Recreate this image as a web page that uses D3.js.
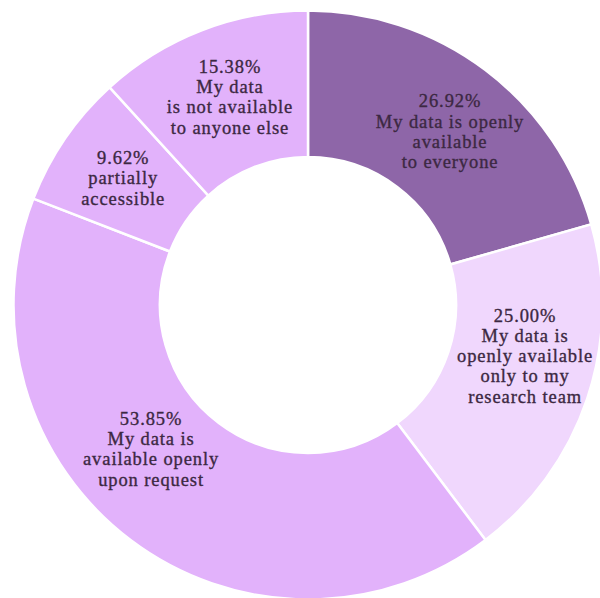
<!DOCTYPE html>
<html>
<head>
<meta charset="utf-8">
<script src="https://cdn.jsdelivr.net/npm/d3@7"></script>
<style>
	html, body { margin: 0; padding: 0; background: #ffffff; }
	svg { display: block; }
</style>
</head>
<body>
<div id="chart"></div>
<script>
'use strict';

// shares as printed on the chart (they do not add up to 100)
const values = [26.92, 25.00, 53.85, 9.62, 15.38];

const categories = [
	["My data is openly", "available", "to everyone"],
	["My data is", "openly available", "only to my", "research team"],
	["My data is", "available openly", "upon request"],
	["partially", "accessible"],
	["My data", "is not available", "to anyone else"]
];

const colors = ["#8e66a8", "#f0d7fd", "#e2b2fb", "#e2b2fb", "#e2b2fb"];

// small hand nudges for the labels: [angle in degrees, radius in px]
const label_nudge = [[2.3, 1], [-5.3, 0], [10.4, -10], [0, 1], [0.6, -1]];

window.onload = function()
{
	const width = 600;
	const height = 598;
	const cx = 308;
	const cy = 305;
	const outer = 294.5;
	const inner = 148;
	const label_r = 223;
	const line_h = 20.3;

	const svg = d3.select("#chart")
		.append("svg")
			.attr("width", width)
			.attr("height", height);

	const g = svg.append("g")
		.attr("transform", `translate(${cx},${cy})`);

	const pie = d3.pie()
		.sort(null)
		.value(d => d);

	const arcs = pie(values);

	const arc = d3.arc()
		.innerRadius(inner)
		.outerRadius(outer);

	g.append("g")
		.attr("class", "slices")
		.selectAll("path")
		.data(arcs)
		.join("path")
			.attr("d", arc)
			.attr("fill", (d, i) => colors[i])
			.attr("stroke", "#ffffff")
			.attr("stroke-width", 2.5);

	const labels = g.append("g")
		.attr("class", "labels")
		.attr("font-family", "'Liberation Serif', 'Times New Roman', serif")
		.attr("font-size", 18.5)
		.attr("letter-spacing", 0.9)
		.attr("fill", "#3c2842")
		.attr("stroke", "#3c2842")
		.attr("stroke-width", 0.35)
		.attr("text-anchor", "middle")
		.selectAll("text")
		.data(arcs)
		.join("text")
			.attr("transform", function(d, i) {
				const a = (d.startAngle + d.endAngle) / 2 + label_nudge[i][0] * Math.PI / 180;
				const r = label_r + label_nudge[i][1];
				return `translate(${r * Math.sin(a)},${-r * Math.cos(a)})`;
			});

	labels.each(function(d, i) {
		const lines = [d.value.toFixed(2) + "%"].concat(categories[i]);
		const top = -(lines.length - 1) / 2 * line_h;
		d3.select(this)
			.selectAll("tspan")
			.data(lines)
			.join("tspan")
				.attr("x", 0)
				.attr("y", (t, k) => top + k * line_h)
				.attr("dy", "0.33em")
				.text(t => t);
	});
}
</script>
</body>
</html>
